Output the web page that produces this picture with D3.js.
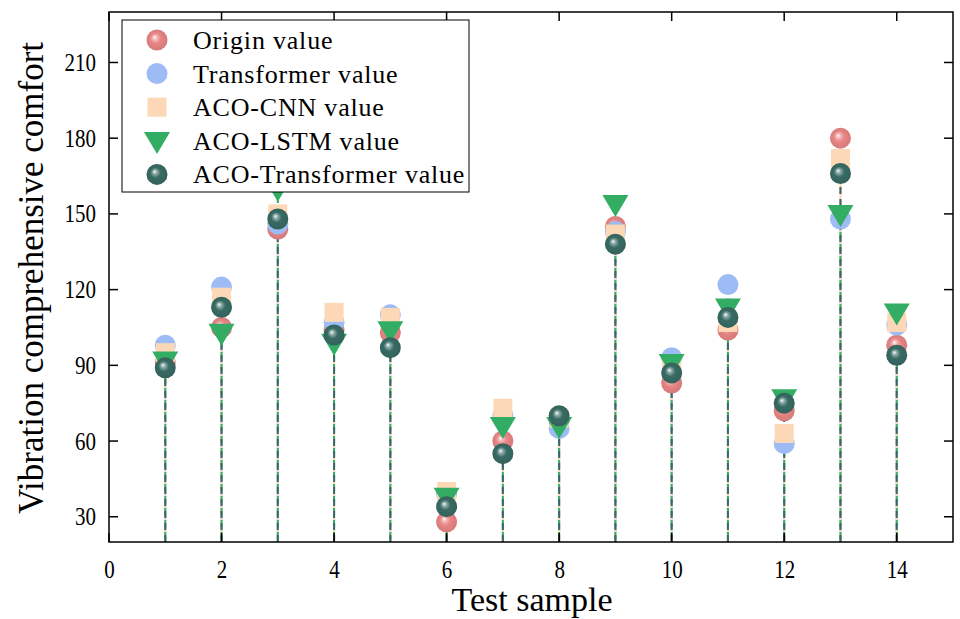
<!DOCTYPE html>
<html>
<head>
<meta charset="utf-8">
<script src="https://cdn.jsdelivr.net/npm/d3@7"></script>
<style>
  html, body { margin: 0; padding: 0; background: #fff; }
  svg { display: block; font-family: "Liberation Serif", "Times New Roman", serif; }
</style>
</head>
<body>
<svg id="chart" width="960" height="619"></svg>
<script>
// ---- data ----
const samples = [1, 2, 3, 4, 5, 6, 7, 8, 9, 10, 11, 12, 13, 14];
const originValues      = [91, 105, 144, 104, 103, 28, 60, 68, 145, 83, 104, 72, 180, 98];
const transformerValues = [98, 121, 146, 107, 110, 39, 70, 65, 143, 93, 122, 59, 148, 106];
const acoCnnValues      = [95, 117, 150, 111, 109, 40, 73, 69, 142, 89, 107, 63, 172, 107];
const acoLstmValues     = [92, 103, 160, 99, 104, 38, 66, 66, 154, 91, 113, 77, 150, 111];
const acoTransValues    = [89, 113, 148, 102, 97, 34, 55, 70, 138, 87, 109, 75, 166, 94];
const seriesNames = ["Origin value", "Transformer value", "ACO-CNN value", "ACO-LSTM value", "ACO-Transformer value"];
const xTicks = [0, 2, 4, 6, 8, 10, 12, 14];
const yTicks = [30, 60, 90, 120, 150, 180, 210];

const seriesValues = [originValues, transformerValues, acoCnnValues, acoLstmValues, acoTransValues];
const colors = ["#e98585", "#9dbcf5", "#fdd8b6", "#34ad64", "#386b64"];
const shapes = ["sphere", "circle", "square", "triangle", "sphere"];

// ---- layout ----
const svg = d3.select("#chart");
const L = 109, T = 12, R = 953, B = 542;
const x = d3.scaleLinear().domain([0, 15]).range([L, R]);
const y = d3.scaleLinear().domain([20, 230]).range([B, T]);

// gradients for spheres
const defs = svg.append("defs");
function sphereGrad(id, col) {
  const g = defs.append("radialGradient").attr("id", id)
    .attr("cx", "50%").attr("cy", "50%").attr("r", "55%")
    .attr("fx", "38%").attr("fy", "36%");
  g.append("stop").attr("offset", "0%").attr("stop-color", "#ffffff");
  g.append("stop").attr("offset", "18%").attr("stop-color", d3.interpolateRgb("#ffffff", col)(0.55));
  g.append("stop").attr("offset", "45%").attr("stop-color", col);
  g.append("stop").attr("offset", "100%").attr("stop-color", d3.color(col).darker(0.3));
}
sphereGrad("g0", colors[0]);
sphereGrad("g4", colors[4]);

// ---- stems ----
const stemG = svg.append("g");
seriesValues.forEach((vals, si) => {
  stemG.selectAll(null).data(samples).enter().append("line")
    .attr("x1", d => x(d)).attr("x2", d => x(d))
    .attr("y1", y(20)).attr("y2", (d, i) => y(vals[i]))
    .attr("stroke", colors[si])
    .attr("stroke-width", 2)
    .attr("stroke-dasharray", "7,5")
    .attr("stroke-dashoffset", si * 3);
});

// ---- markers ----
function drawMarker(g, shape, si, cx, cy) {
  const col = colors[si];
  if (shape === "sphere") {
    g.append("circle").attr("cx", cx).attr("cy", cy).attr("r", 10.5)
      .attr("fill", `url(#g${si})`);
  } else if (shape === "circle") {
    g.append("circle").attr("cx", cx).attr("cy", cy).attr("r", 10.5).attr("fill", col);
  } else if (shape === "square") {
    g.append("rect").attr("x", cx - 9.5).attr("y", cy - 9.5).attr("width", 19).attr("height", 19).attr("fill", col);
  } else if (shape === "triangle") {
    const w = 13, h = 22;
    g.append("path")
      .attr("d", `M${cx - w},${cy - h * 0.4}L${cx + w},${cy - h * 0.4}L${cx},${cy + h * 0.6}Z`)
      .attr("fill", col);
  }
}
const markG = svg.append("g");
seriesValues.forEach((vals, si) => {
  samples.forEach((s, i) => drawMarker(markG, shapes[si], si, x(s), y(vals[i])));
});

// ---- frame & axes ----
const axG = svg.append("g");
axG.append("rect").attr("x", L).attr("y", T).attr("width", R - L).attr("height", B - T)
  .attr("fill", "none").attr("stroke", "#000").attr("stroke-width", 1.5);

const tickLen = 9;
const bottomAxis = d3.axisBottom(x).tickValues(xTicks).tickSize(0).tickPadding(18);
const gb = axG.append("g").attr("transform", `translate(0,${B})`).call(bottomAxis);
gb.select(".domain").remove();
gb.selectAll(".tick text")
  .attr("font-size", 25).attr("font-family", "Liberation Serif, Times New Roman, serif").attr("fill", "#000")
  .attr("transform", "scale(0.84,1)")
  .attr("x", function () { return 0; });
// keep horizontal centre after scaling: scale each tick group text around its own origin (tick translate is on parent g)

const leftAxis = d3.axisLeft(y).tickValues(yTicks).tickSize(0).tickPadding(0);
const gl = axG.append("g").attr("transform", `translate(${L},0)`).call(leftAxis);
gl.select(".domain").remove();
gl.selectAll(".tick text")
  .attr("font-size", 25).attr("font-family", "Liberation Serif, Times New Roman, serif").attr("fill", "#000")
  .attr("x", 0)
  .attr("transform", "translate(-13,0) scale(0.84,1)");

// inward ticks on all four sides
xTicks.forEach(v => {
  axG.append("line").attr("x1", x(v)).attr("x2", x(v)).attr("y1", B).attr("y2", B - tickLen).attr("stroke", "#000").attr("stroke-width", 1.5);
  axG.append("line").attr("x1", x(v)).attr("x2", x(v)).attr("y1", T).attr("y2", T + tickLen).attr("stroke", "#000").attr("stroke-width", 1.5);
});
yTicks.forEach(v => {
  axG.append("line").attr("x1", L).attr("x2", L + tickLen).attr("y1", y(v)).attr("y2", y(v)).attr("stroke", "#000").attr("stroke-width", 1.5);
  axG.append("line").attr("x1", R).attr("x2", R - tickLen).attr("y1", y(v)).attr("y2", y(v)).attr("stroke", "#000").attr("stroke-width", 1.5);
});

// axis titles
svg.append("text").attr("x", 532).attr("y", 611).attr("text-anchor", "middle")
  .attr("font-size", 34).text("Test sample");
svg.append("text").attr("transform", `translate(43,${(T + B) / 2 + 1}) rotate(-90)`)
  .attr("text-anchor", "middle").attr("font-size", 35).text("Vibration comprehensive comfort");

// ---- legend ----
const lg = svg.append("g");
lg.append("rect").attr("x", 122).attr("y", 20).attr("width", 347).attr("height", 172)
  .attr("fill", "#fff").attr("stroke", "#000").attr("stroke-width", 1);
seriesNames.forEach((name, si) => {
  const cy = 40 + si * 33.6;
  drawMarker(lg, shapes[si], si, 157, cy);
  lg.append("text").attr("x", 193).attr("y", cy + 9).attr("font-size", 26)
    .attr("letter-spacing", 0.8).text(name);
});
</script>
</body>
</html>
